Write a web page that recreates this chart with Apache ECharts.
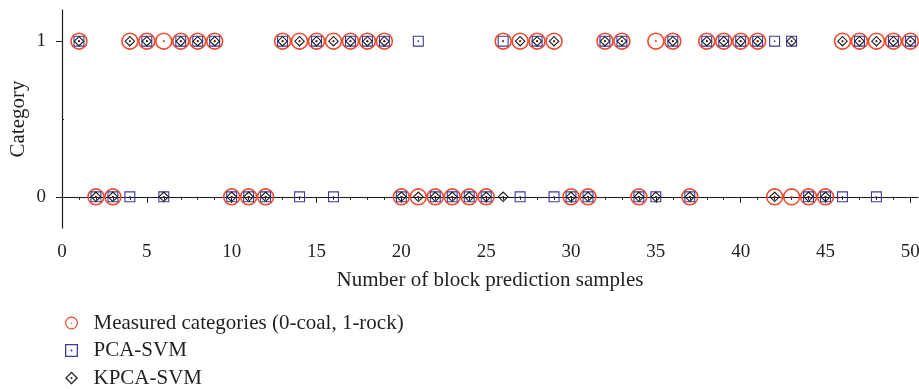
<!DOCTYPE html>
<html>
<head>
<meta charset="utf-8">
<script src="https://cdn.jsdelivr.net/npm/echarts@6/dist/echarts.min.js"></script>
<style>
  html, body { margin: 0; padding: 0; background: #fff; }
  #chart { width: 919px; height: 389px; }
</style>
</head>
<body>
<div id="chart"></div>
<script>
// Block prediction samples and the category assigned to each (0 = coal, 1 = rock)
const sampleNo = [1, 2, 3, 4, 5, 6, 7, 8, 9, 10,
                  11, 12, 13, 14, 15, 16, 17, 18, 19, 20,
                  21, 22, 23, 24, 25, 26, 27, 28, 29, 30,
                  31, 32, 33, 34, 35, 36, 37, 38, 39, 40,
                  41, 42, 43, 44, 45, 46, 47, 48, 49, 50];

const measured = [1, 0, 0, 1, 1, 1, 1, 1, 1, 0,
                  0, 0, 1, 1, 1, 1, 1, 1, 1, 0,
                  0, 0, 0, 0, 0, 1, 1, 1, 1, 0,
                  0, 1, 1, 0, 1, 1, 0, 1, 1, 1,
                  1, 0, 0, 0, 0, 1, 1, 1, 1, 1];

const pcaSvm = [1, 0, 0, 0, 1, 0, 1, 1, 1, 0,
                0, 0, 1, 0, 1, 0, 1, 1, 1, 0,
                1, 0, 0, 0, 0, 1, 0, 1, 0, 0,
                0, 1, 1, 0, 0, 1, 0, 1, 1, 1,
                1, 1, 1, 0, 0, 0, 1, 0, 1, 1];

const kpcaSvm = [1, 0, 0, 1, 1, 0, 1, 1, 1, 0,
                 0, 0, 1, 1, 1, 1, 1, 1, 1, 0,
                 0, 0, 0, 0, 0, 0, 1, 1, 1, 0,
                 0, 1, 1, 0, 0, 1, 0, 1, 1, 1,
                 1, 0, 1, 0, 0, 1, 1, 1, 1, 1];

const seriesNames = ['Measured categories (0-coal, 1-rock)', 'PCA-SVM', 'KPCA-SVM'];
const xMajorTicks = [0, 5, 10, 15, 20, 25, 30, 35, 40, 45, 50];
const yTickValues = [0, 1];

// Hollow markers with a small centre dot (outer ring + reversed inner ring + dot)
function dotPath(r) {
  return 'M' + (50 - r) + ' 50A' + r + ' ' + r + ' 0 1 0 ' + (50 + r) + ' 50A' + r + ' ' + r + ' 0 1 0 ' + (50 - r) + ' 50Z';
}
const ringSymbol = 'path://M0 50A50 50 0 1 0 100 50A50 50 0 1 0 0 50Z' +
  'M9 50A41 41 0 1 1 91 50A41 41 0 1 1 9 50Z' + dotPath(6);
const squareSymbol = 'path://M0 0L100 0L100 100L0 100Z' +
  'M10 10L10 90L90 90L90 10Z' + dotPath(8);
const diamondSymbol = 'path://M50 0L100 50L50 100L0 50Z' +
  'M50 14L14 50L50 86L86 50Z' + dotPath(8);

const colors = ['#ef4a2e', '#3d3a9c', '#1e1e1e'];
const fontFamily = '"Liberation Serif", "DejaVu Serif", serif';
const textColor = '#231f20';

function pairs(values) {
  return sampleNo.map((s, i) => [s, values[i]]);
}

const xMin = 0, xMax = 50.45;
const yMin = -0.2, yMax = 1.2;

const chart = echarts.init(document.getElementById('chart'), null, { renderer: 'canvas' });

chart.setOption({
  animation: false,
  backgroundColor: '#ffffff',
  textStyle: { fontFamily: fontFamily, color: textColor },
  grid: { left: 62, right: 1, top: 10, bottom: 161, containLabel: false, outerBoundsMode: 'none' },
  legend: {
    orient: 'vertical',
    left: 65,
    top: 312,
    padding: 0,
    itemWidth: 34,
    itemHeight: 13,
    itemGap: 5.5,
    selectedMode: false,
    textStyle: { fontFamily: fontFamily, fontSize: 21, color: textColor, lineHeight: 22 },
    data: [
      { name: seriesNames[0], icon: ringSymbol },
      { name: seriesNames[1], icon: squareSymbol },
      { name: seriesNames[2], icon: diamondSymbol }
    ]
  },
  xAxis: [
    {
      // unit ticks along the axis line
      type: 'value', min: xMin, max: xMax,
      axisLine: { show: true, lineStyle: { color: '#1a1a1a', width: 1.2 } },
      axisTick: { show: true, length: 3, lineStyle: { color: '#1a1a1a', width: 1 },
                  customValues: sampleNo.concat([0]) },
      axisLabel: { show: false },
      splitLine: { show: false },
      name: 'Number of block prediction samples',
      nameLocation: 'middle',
      nameGap: 42,
      nameMoveOverlap: false,
      nameTextStyle: { fontFamily: fontFamily, fontSize: 21, color: textColor }
    },
    {
      // major ticks and labels every 5 samples
      type: 'value', min: xMin, max: xMax, position: 'bottom',
      axisLine: { show: false },
      axisTick: { show: true, length: 6, lineStyle: { color: '#1a1a1a', width: 1 },
                  customValues: xMajorTicks },
      axisLabel: { show: true, margin: 15, fontFamily: fontFamily, fontSize: 19, color: textColor,
                   customValues: xMajorTicks },
      splitLine: { show: false }
    }
  ],
  yAxis: [
    {
      type: 'value', min: yMin, max: yMax,
      axisLine: { show: true, lineStyle: { color: '#1a1a1a', width: 1.2 } },
      axisTick: { show: true, length: 6, lineStyle: { color: '#1a1a1a', width: 1 },
                  customValues: yTickValues },
      axisLabel: { show: true, margin: 16, fontFamily: fontFamily, fontSize: 19, color: textColor,
                   customValues: yTickValues },
      splitLine: { show: false },
      name: 'Category',
      nameLocation: 'middle',
      nameGap: 33,
      nameMoveOverlap: false,
      nameRotate: 90,
      nameTextStyle: { fontFamily: fontFamily, fontSize: 21, color: textColor }
    },
    {
      // half-way tick between the two categories
      type: 'value', min: yMin, max: yMax, position: 'left',
      axisLine: { show: false },
      axisTick: { show: true, inside: true, length: 2, lineStyle: { color: '#1a1a1a', width: 1 },
                  customValues: [0.5] },
      axisLabel: { show: false },
      splitLine: { show: false }
    }
  ],
  series: [
    {
      name: seriesNames[0], type: 'scatter', symbol: ringSymbol, symbolSize: 17.5,
      itemStyle: { color: colors[0], opacity: 1 },
      data: pairs(measured), z: 2
    },
    {
      name: seriesNames[1], type: 'scatter', symbol: squareSymbol, symbolSize: 11,
      itemStyle: { color: colors[1], opacity: 1 },
      data: pairs(pcaSvm), z: 3
    },
    {
      name: seriesNames[2], type: 'scatter', symbol: diamondSymbol, symbolSize: 11,
      itemStyle: { color: colors[2], opacity: 1 },
      data: pairs(kpcaSvm), z: 4
    }
  ]
});
</script>
</body>
</html>
